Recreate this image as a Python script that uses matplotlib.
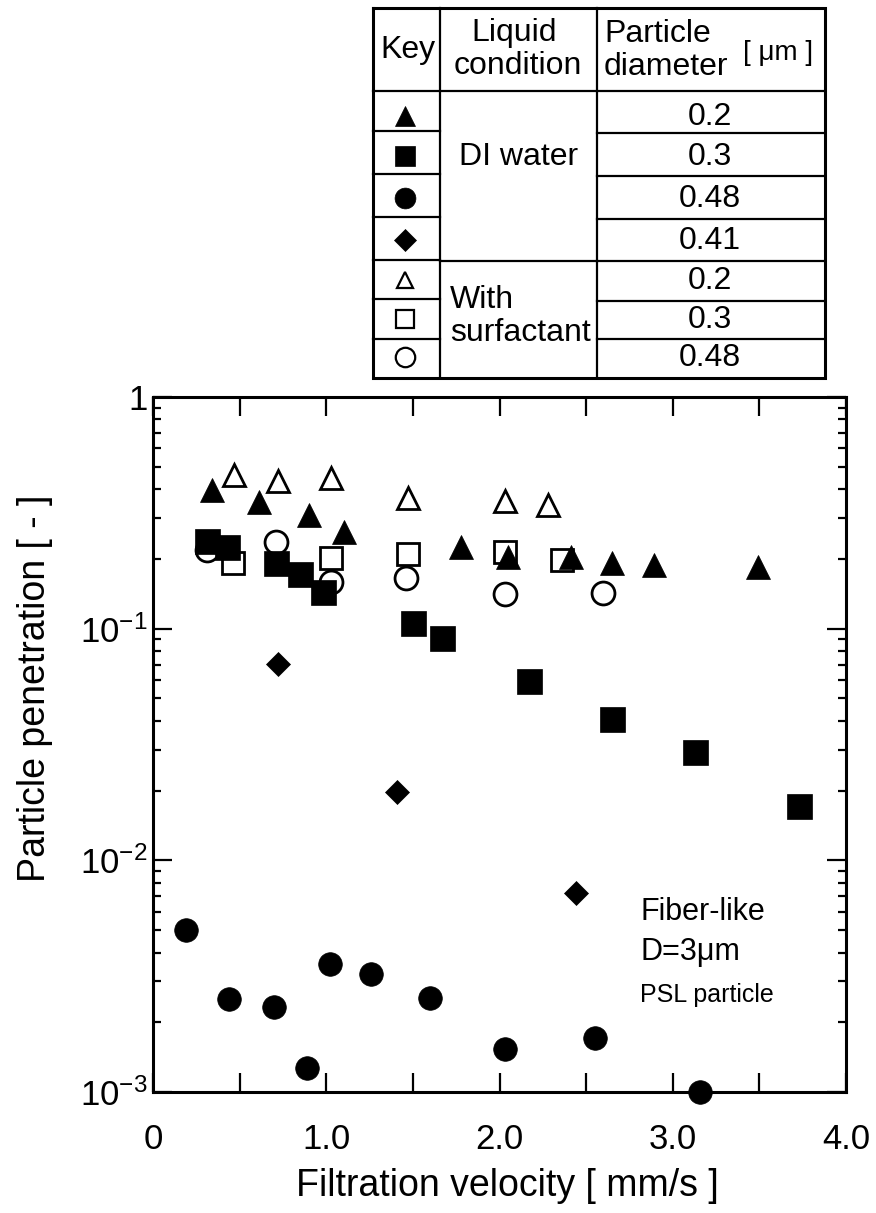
import matplotlib
matplotlib.use('Agg')
import matplotlib.pyplot as plt
from matplotlib.ticker import FixedLocator, FixedFormatter, LogLocator, NullFormatter

plt.rcParams['font.family'] = ['Liberation Sans', 'DejaVu Sans']
plt.rcParams['mathtext.fontset'] = 'custom'
plt.rcParams['mathtext.rm'] = 'Liberation Sans'

# ---------------- data ----------------
# DI water
v_di_02 = [0.34, 0.61, 0.90, 1.10, 1.78, 2.05, 2.41, 2.65, 2.89, 3.49]
p_di_02 = [0.397, 0.352, 0.310, 0.261, 0.225, 0.204, 0.204, 0.192, 0.188, 0.185]
v_di_03 = [0.31, 0.43, 0.71, 0.85, 0.98, 1.50, 1.67, 2.17, 2.65, 3.13, 3.73]
p_di_03 = [0.239, 0.225, 0.192, 0.172, 0.144, 0.106, 0.091, 0.0594, 0.0408, 0.0294, 0.0172]
v_di_048 = [0.19, 0.44, 0.70, 0.89, 1.02, 1.26, 1.60, 2.03, 2.55, 3.16]
p_di_048 = [0.00501, 0.00252, 0.00233, 0.00127, 0.00357, 0.00323, 0.00255, 0.00153, 0.00171, 0.00100]
v_di_041 = [0.72, 1.41, 2.44]
p_di_041 = [0.0704, 0.0197, 0.00723]
# With surfactant
v_su_02 = [0.47, 0.72, 1.03, 1.47, 2.03, 2.28]
p_su_02 = [0.461, 0.434, 0.447, 0.366, 0.356, 0.342]
v_su_03 = [0.46, 1.03, 1.47, 2.03, 2.36]
p_su_03 = [0.192, 0.202, 0.210, 0.214, 0.198]
v_su_048 = [0.31, 0.71, 1.03, 1.46, 2.03, 2.60]
p_su_048 = [0.219, 0.237, 0.159, 0.166, 0.141, 0.143]

x_ticks = [0, 1, 2, 3, 4]
x_ticklabels = ['0', '1.0', '2.0', '3.0', '4.0']
y_ticks = [1e-3, 1e-2, 1e-1, 1]
y_ticklabels = [r'$\mathregular{10^{-3}}$', r'$\mathregular{10^{-2}}$',
                r'$\mathregular{10^{-1}}$', '1']

table_conditions = ['DI water', 'With\nsurfactant']
table_diameters = ['0.2', '0.3', '0.48', '0.41', '0.2', '0.3', '0.48']

# ---------------- figure ----------------
W, H = 876, 1213
fig = plt.figure(figsize=(W / 100, H / 100), dpi=100)
ax = fig.add_axes([153 / W, 1 - 1092 / H, 693 / W, 695 / H])

open_kw = dict(linestyle='none', mfc='white', mec='black', mew=2.0, clip_on=False)
fill_kw = dict(linestyle='none', color='black', mew=0.5, clip_on=False)

# open markers first (filled ones overlay them)
ax.plot(v_su_048, p_su_048, 'o', ms=16.5, zorder=3, **open_kw)
ax.plot(v_su_03, p_su_03, 's', ms=16.5, zorder=3, **open_kw)
ax.plot(v_su_02, p_su_02, '^', ms=16, zorder=3, **open_kw)
ax.plot(v_di_048, p_di_048, 'o', ms=17, zorder=4, **fill_kw)
ax.plot(v_di_041, p_di_041, 'D', ms=12, zorder=4, **fill_kw)
ax.plot(v_di_03, p_di_03, 's', ms=18, zorder=4, **fill_kw)
ax.plot(v_di_02, p_di_02, '^', ms=17.5, zorder=5, **fill_kw)

ax.set_yscale('log')
ax.set_xlim(0, 4)
ax.set_ylim(1e-3, 1)

ax.xaxis.set_major_locator(FixedLocator(x_ticks))
ax.xaxis.set_major_formatter(FixedFormatter(x_ticklabels))
ax.xaxis.set_minor_locator(FixedLocator([0.5, 1.5, 2.5, 3.5]))
ax.yaxis.set_major_locator(FixedLocator(y_ticks))
ax.yaxis.set_major_formatter(FixedFormatter(y_ticklabels))
ax.yaxis.set_minor_locator(LogLocator(base=10, subs=range(2, 10)))
ax.yaxis.set_minor_formatter(NullFormatter())

ax.tick_params(axis='both', which='both', direction='in', top=True, right=True,
               width=1.6, colors='black')
ax.tick_params(axis='x', which='both', length=14, labelsize=25, pad=22)
ax.tick_params(axis='y', which='major', length=14, labelsize=25, pad=4)
ax.tick_params(axis='y', which='minor', length=6)
for s in ax.spines.values():
    s.set_linewidth(2.2)

fig.text(507 / W, 1 - 1186 / H, 'Filtration velocity [ mm/s ]', fontsize=27,
         ha='center', va='center')
fig.text(35 / W, 1 - 688 / H, 'Particle penetration [ - ]', fontsize=27,
         ha='center', va='center', rotation=90)

ax.text(0.703, 0.259, 'Fiber-like', transform=ax.transAxes, fontsize=22,
        ha='left', va='center')
ax.text(0.703, 0.201, 'D=3\u03bcm', transform=ax.transAxes, fontsize=22,
        ha='left', va='center')
ax.text(0.703, 0.140, 'PSL particle', transform=ax.transAxes, fontsize=18,
        ha='left', va='center')

# ---------------- key table (pixel coordinates overlay) ----------------
ov = fig.add_axes([0, 0, 1, 1])
ov.set_xlim(0, W)
ov.set_ylim(H, 0)
ov.axis('off')
ov.patch.set_visible(False)

lw_out, lw_in = 2.2, 1.6
L, C1, C2, R, T, B = 373, 440, 597, 825, 8, 378
ov.plot([L, R, R, L, L], [T, T, B, B, T], color='black', lw=lw_out,
        solid_joinstyle='miter')
ov.plot([C1, C1], [T, B], color='black', lw=lw_in)
ov.plot([C2, C2], [T, B], color='black', lw=lw_in)
ov.plot([L, R], [91, 91], color='black', lw=lw_in)
for yk in [131, 174, 217, 260, 299, 339]:
    ov.plot([L, C1], [yk, yk], color='black', lw=lw_in)
for yr in [133, 176, 219, 261, 301, 339]:
    ov.plot([C2, R], [yr, yr], color='black', lw=lw_in)
ov.plot([C1, C2], [261, 261], color='black', lw=lw_in)

ov.text(408, 50, 'Key', fontsize=23, ha='center', va='center')
ov.text(514, 33, 'Liquid', fontsize=23, ha='center', va='center')
ov.text(518, 66, 'condition', fontsize=23, ha='center', va='center')
ov.text(604, 34, 'Particle', fontsize=23, ha='left', va='center')
ov.text(604, 67, 'diameter', fontsize=23, ha='left', va='center')
ov.text(778, 53, '[ \u03bcm ]', fontsize=20, ha='center', va='center')
ov.text(519, 157, table_conditions[0], fontsize=23, ha='center', va='center')
ov.text(450, 300, 'With', fontsize=23, ha='left', va='center')
ov.text(450, 333, 'surfactant', fontsize=23, ha='left', va='center')

row_y = [116, 156, 198, 240, 280, 319, 357]
key_styles = [
    dict(marker='^', ms=14, mfc='black', mec='black', mew=0.5),
    dict(marker='s', ms=14, mfc='black', mec='black', mew=0.5),
    dict(marker='o', ms=15, mfc='black', mec='black', mew=0.5),
    dict(marker='D', ms=11, mfc='black', mec='black', mew=0.5),
    dict(marker='^', ms=12, mfc='white', mec='black', mew=1.6),
    dict(marker='s', ms=13, mfc='white', mec='black', mew=1.6),
    dict(marker='o', ms=14, mfc='white', mec='black', mew=1.6),
]
for yy, st, lab in zip(row_y, key_styles, table_diameters):
    ov.plot([405], [yy], linestyle='none', **st)
    ov.text(710, yy + 1, lab, fontsize=23, ha='center', va='center')

fig.savefig('out.png', dpi=100, facecolor='white')
